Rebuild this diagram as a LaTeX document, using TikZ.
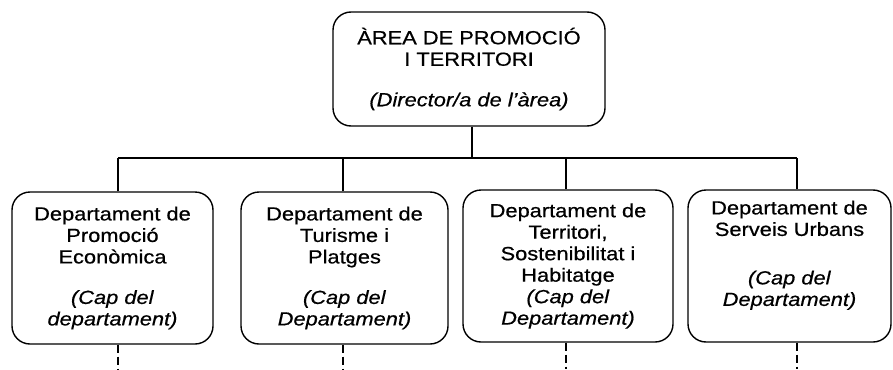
\documentclass[tikz,border=0pt]{standalone}
\usepackage{fontspec}
\setmainfont[FakeStretch=1.15,FakeBold=0.6]{Liberation Sans}
\begin{document}
\begin{tikzpicture}[x=1pt,y=-1pt,
  orgbox/.style={draw=black, line width=1.4pt, rounded corners=18pt, align=center,
    font=\fontsize{19}{21.5}\selectfont, inner sep=0pt},
  link/.style={draw=black, line width=1.3pt},
  sublink/.style={draw=black, line width=1.3pt, dash pattern=on 8pt off 4pt}]
\useasboundingbox (0,0) rectangle (893,369);
\node[orgbox, minimum width=272pt, minimum height=114pt] (top) at (469,69)
  {ÀREA DE PROMOCIÓ\\I TERRITORI\\[19pt]\textit{(Director/a de l’àrea)}};
\node[orgbox, minimum width=201pt, minimum height=152pt] (b1) at (112.5,268)
  {Departament de\\Promoció\\Econòmica\\[19pt]\textit{(Cap del}\\\textit{departament)}};
\node[orgbox, minimum width=207pt, minimum height=152pt] (b2) at (344.5,268)
  {Departament de\\Turisme i\\Platges\\[19pt]\textit{(Cap del}\\\textit{Departament)}};
\node[orgbox, minimum width=210pt, minimum height=152pt] (b3) at (568,266)
  {Departament de\\Territori,\\Sostenibilitat i\\Habitatge\\\textit{(Cap del}\\\textit{Departament)}};
\node[orgbox, minimum width=203pt, minimum height=152pt] (b4) at (789.5,266)
  {Departament de\\Serveis Urbans\\[27pt]\textit{(Cap del}\\\textit{Departament)}\\[4pt]};
\coordinate (bus) at (0,158);
\coordinate (bottom) at (0,369);
\coordinate (t0) at ([xshift=3pt]top.south);
\coordinate (c1) at ([xshift=5.5pt]b1.north);
\coordinate (c2) at ([xshift=-1.5pt]b2.north);
\coordinate (c3) at ([xshift=-2pt]b3.north);
\coordinate (c4) at ([xshift=7.5pt]b4.north);
\draw[link] (t0) -- (t0 |- bus);
\draw[link] (c1 |- bus) -- (c4 |- bus);
\foreach \b/\c in {b1/c1,b2/c2,b3/c3,b4/c4}{
  \draw[link] (\c) -- (\c |- bus);
  \draw[sublink] (\c |- \b.south) -- (\c |- bottom);
}
\end{tikzpicture}
\end{document}
